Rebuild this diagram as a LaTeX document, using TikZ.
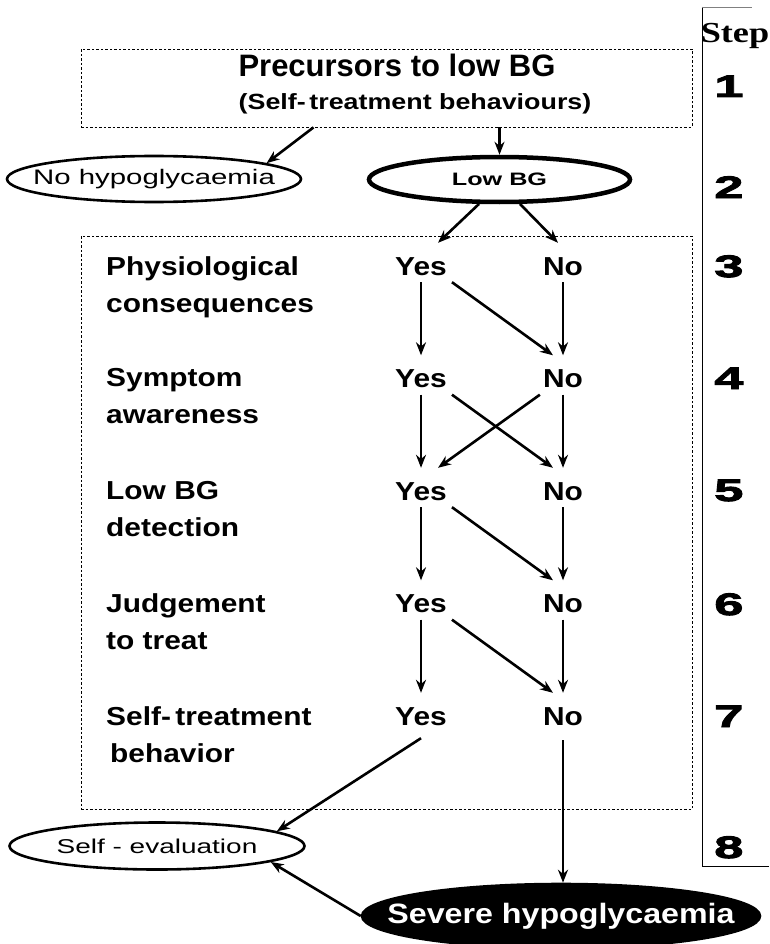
\documentclass[tikz,border=0pt]{standalone}
\usepackage{fontspec}
\setmainfont{Liberation Sans}
\newfontfamily\labfont{Liberation Sans}[FakeStretch=1.15]
\newfontfamily\subfont{Liberation Sans}[FakeStretch=1.22]
\newfontfamily\widefont{Liberation Sans}[FakeStretch=1.4]
\newfontfamily\digitfont{Liberation Sans}[FakeStretch=1.7, BoldFeatures={FakeBold=3}]
\newfontfamily\serifbold{Liberation Serif}[FakeStretch=1.25]
\usepackage{tikz}
\usetikzlibrary{positioning, arrows.meta, shapes.geometric}

\tikzset{
  dotbox/.style={draw, line width=0.8pt, dash pattern=on 2.5pt off 2pt, inner sep=0pt},
  oval/.style={ellipse, draw, line width=2.6pt, inner sep=0pt},
  lab/.style={anchor=north west, align=left, inner sep=0pt, font=\labfont\bfseries\fontsize{26}{37}\selectfont},
  yn/.style={anchor=base, inner xsep=3pt, inner ysep=2pt, text height=30pt, text depth=5pt, font=\labfont\bfseries\fontsize{26}{31}\selectfont},
  num/.style={anchor=base west, inner sep=0pt, font=\digitfont\bfseries\fontsize{31}{31}\selectfont},
  arr/.style={-{Stealth[length=13pt,width=10pt]}, line width=2.6pt},
}

\begin{document}
\begin{tikzpicture}[x=1pt, y=-1pt]
    \useasboundingbox (0,0) rectangle (769,944);

    % step column
    \draw[line width=1pt] (702,7) -- (702,866) -- (769,866);
    \draw[gray, line width=0.6pt] (702,7) -- (752,7);
    \node[anchor=base, inner sep=0pt, font=\serifbold\bfseries\fontsize{29}{29}\selectfont] (steplbl) at (735,43) {Step};
    \node[num] (s1) at (714,97) {1};
    \node[num] (s2) at (714,198) {2};
    \node[num] (s3) at (714,277) {3};
    \node[num] (s4) at (714,389) {4};
    \node[num] (s5) at (714,501) {5};
    \node[num] (s6) at (714,615) {6};
    \node[num] (s7) at (714,727) {7};
    \node[num] (s8) at (714,858) {8};

    % precursors
    \node[dotbox, minimum width=611pt, minimum height=78pt] (prec) at (386.5,88) {};
    \node[anchor=base, inner sep=0pt, font=\bfseries\fontsize{31}{31}\selectfont] (prec1) at (397,77) {Precursors to low BG};
    \node[anchor=base, inner sep=0pt, font=\subfont\bfseries\fontsize{22}{22}\selectfont] (prec2) at (415,110) {(Self-\,treatment behaviours)};

    \node[oval, minimum width=294pt, minimum height=46pt,
      label={[font=\widefont\fontsize{21}{21}\selectfont]center:No hypoglycaemia}] (nohypo) at (154,179) {};
    \node[oval, line width=4.5pt, minimum width=261pt, minimum height=45pt,
      label={[font=\widefont\bfseries\fontsize{18}{18}\selectfont]center:Low BG}] (lowbg) at (499.5,179.5) {};
    \draw[arr] ([xshift=-73pt]prec.south) -- (nohypo.8);
    \draw[arr] ([xshift=113pt]prec.south) -- (lowbg.north);

    % steps 3 to 7
    \node[dotbox, minimum width=611pt, minimum height=573pt] (rows) at (386.5,522.5) {};
    \node[lab] (physio) at (106,256) {Physiological\\consequences};
    \node[lab] (sympt) at (106,368.5) {Symptom\\awareness};
    \node[lab] (detect) at (106,481) {Low BG\\detection};
    \node[lab] (judge) at (106,593.5) {Judgement\\to treat};
    \node[lab] (behav) at (106,706) {Self-\,treatment\\\hspace*{4pt}behavior};

    \node[yn] (y3) at (421,275) {Yes};
    \node[yn] (n3) at (563,275) {No};
    \node[yn] (y4) at (421,387.5) {Yes};
    \node[yn] (n4) at (563,387.5) {No};
    \node[yn] (y5) at (421,500) {Yes};
    \node[yn] (n5) at (563,500) {No};
    \node[yn] (y6) at (421,612.5) {Yes};
    \node[yn] (n6) at (563,612.5) {No};
    \node[yn] (y7) at (421,725) {Yes};
    \node[yn] (n7) at (563,725) {No};

    \draw[arr] (lowbg.-130) -- ([xshift=17pt]y3.north);
    \draw[arr] (lowbg.-50) -- ([xshift=-5pt]n3.north);

    \draw[arr] (y3.south) -- (y4.north);
    \draw[arr] (n3.south) -- (n4.north);
    \draw[arr] ([xshift=2pt]y3.south east) -- ([xshift=-10pt]n4.north);
    \draw[arr] (y4.south) -- (y5.north);
    \draw[arr] (n4.south) -- (n5.north);
    \draw[arr] ([xshift=2pt]y4.south east) -- ([xshift=-10pt]n5.north);
    \draw[arr] (n4.south west) -- ([xshift=17pt]y5.north);
    \draw[arr] (y5.south) -- (y6.north);
    \draw[arr] (n5.south) -- (n6.north);
    \draw[arr] ([xshift=2pt]y5.south east) -- ([xshift=-10pt]n6.north);
    \draw[arr] (y6.south) -- (y7.north);
    \draw[arr] (n6.south) -- (n7.north);
    \draw[arr] ([xshift=2pt]y6.south east) -- ([xshift=-10pt]n7.north);

    % outcomes
    \node[oval, minimum width=295pt, minimum height=47pt,
      label={[font=\widefont\fontsize{20}{20}\selectfont]center:Self - evaluation}] (selfeval) at (157,846) {};
    \node[oval, fill=black, minimum width=398pt, minimum height=64pt,
      label={[text=white, font=\labfont\bfseries\fontsize{28}{28}\selectfont]center:Severe hypoglycaemia}] (severe) at (561,916) {};

    \draw[arr] ([yshift=-6pt]y7.south) -- (selfeval.7);
    \draw[arr] ([yshift=-8pt]n7.south) -- (n7.south |- severe.north);
    \draw[arr] (severe.west) -- (selfeval.-8);
\end{tikzpicture}
\end{document}
